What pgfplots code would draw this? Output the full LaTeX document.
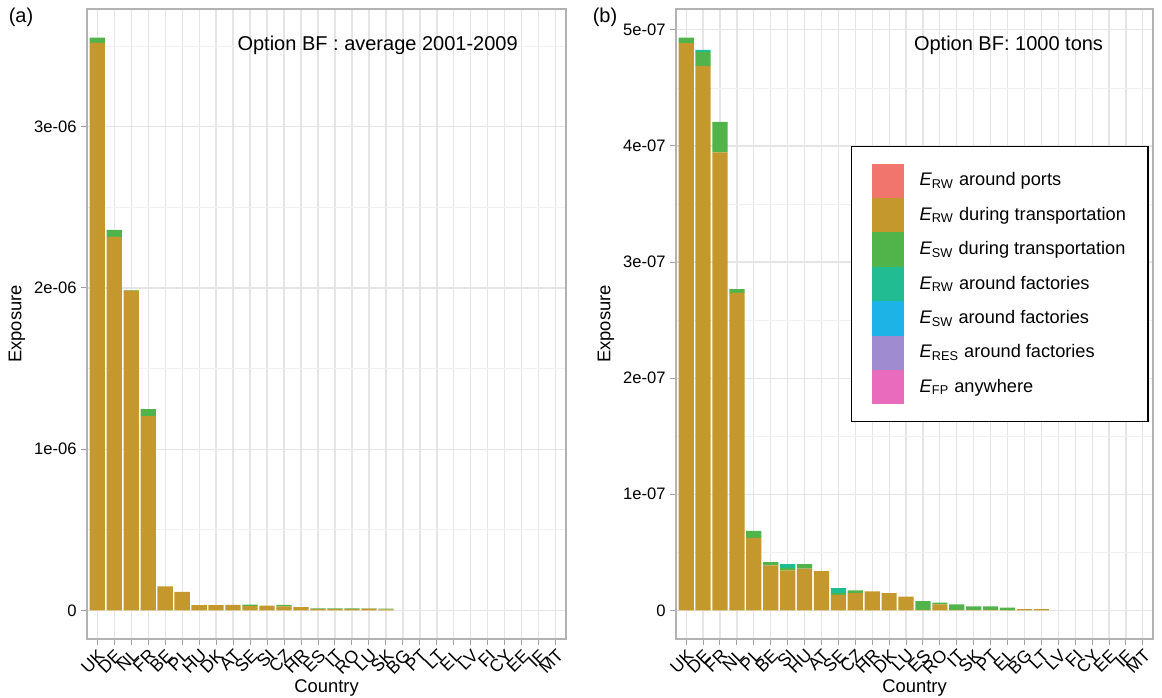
\documentclass[border=0pt]{standalone}
\usepackage{fontspec}
\setmainfont{Liberation Sans}
\usepackage{pgfplots}
\usepackage{pgfplotstable}
\pgfplotsset{compat=1.18}

\definecolor{cPorts}{HTML}{F2756D}
\definecolor{cRWt}{HTML}{C4982C}
\definecolor{cSWt}{HTML}{50B44B}
\definecolor{cRWf}{HTML}{22BC92}
\definecolor{cSWf}{HTML}{1EB3E6}
\definecolor{cRES}{HTML}{9F8BCF}
\definecolor{cFP}{HTML}{E96BBE}

\newcommand\tickfont{\fontsize{8.3}{10}\selectfont}
\newcommand\xtickfont{\fontsize{8.8}{10}\selectfont}
\newcommand\labfont{\fontsize{9.2}{11}\selectfont}
\newcommand\legfont{\fontsize{9.1}{10}\selectfont}
\newcommand\titfont{\fontsize{10}{12}\selectfont}

\pgfplotstableread{
x rwt swt
0  3.520e-6 0.033e-6
1  2.317e-6 0.043e-6
2  1.983e-6 0.004e-6
3  1.205e-6 0.043e-6
4  0.149e-6 0
5  0.114e-6 0
6  0.033e-6 0
7  0.033e-6 0
8  0.034e-6 0
9  0.027e-6 0.008e-6
10 0.030e-6 0
11 0.024e-6 0.010e-6
12 0.020e-6 0
13 0.007e-6 0.005e-6
14 0.007e-6 0.005e-6
15 0.008e-6 0.004e-6
16 0.010e-6 0.002e-6
17 0.006e-6 0.005e-6
18 0 0
19 0 0
20 0 0
21 0 0
22 0 0
23 0 0
24 0 0
25 0 0
26 0 0
27 0 0
}\dataA

\pgfplotstableread{
x rwt swt rwf
0  4.886e-7 0.048e-7 0
1  4.690e-7 0.118e-7 0.020e-7
2  3.944e-7 0.264e-7 0
3  2.734e-7 0.034e-7 0
4  0.625e-7 0.060e-7 0
5  0.387e-7 0.029e-7 0
6  0.344e-7 0.023e-7 0.031e-7
7  0.360e-7 0.038e-7 0
8  0.338e-7 0 0
9  0.134e-7 0.014e-7 0.043e-7
10 0.149e-7 0.023e-7 0
11 0.163e-7 0 0
12 0.149e-7 0 0
13 0.118e-7 0 0
14 0.005e-7 0.075e-7 0
15 0.052e-7 0.014e-7 0
16 0.005e-7 0.047e-7 0
17 0.004e-7 0.030e-7 0
18 0.004e-7 0.030e-7 0
19 0.003e-7 0.020e-7 0
20 0.011e-7 0 0
21 0.011e-7 0 0
22 0 0 0
23 0 0 0
24 0 0 0
25 0 0 0
26 0 0 0
27 0 0 0
}\dataB

\pgfplotsset{
  sqkey/.style={legend image code/.code={\fill[##1] (0pt,-8.6pt) rectangle (16pt,8.6pt);}},
  panel/.style={
    scale only axis,
    height=315pt,
    ybar stacked, bar width=0.9,
    xmin=-0.6, xmax=27.6, xtick={0,...,27},
    tick pos=left,
    tick align=outside, major tick length=3pt, minor tick length=0pt,
    tick style={gray!75, line width=0.5pt},
    axis line style={gray!60, line width=0.6pt},
    xmajorgrids, ymajorgrids, yminorgrids,
    major grid style={gray!20, line width=0.6pt},
    minor grid style={gray!12, line width=0.35pt},
    xticklabel style={rotate=45, anchor=north east, inner sep=1pt, font=\xtickfont},
    yticklabel style={font=\tickfont, inner sep=2pt},
    xlabel={Country}, ylabel={Exposure},
    label style={font=\labfont},
    xlabel style={yshift=3pt},
    ylabel style={yshift=-1pt},
  }
}

\begin{document}
\begin{tikzpicture}
\useasboundingbox (0,0) rectangle (581pt,348.5pt);

\begin{axis}[panel,
  at={(43.5pt,29pt)}, anchor=south west, width=239.5pt,
  ymin=-0.1777e-6, ymax=3.7307e-6,
  ytick={0,1e-6,2e-6,3e-6}, yticklabels={0,1e-06,2e-06,3e-06},
  minor ytick={0.5e-6,1.5e-6,2.5e-6,3.5e-6},
  xticklabels={UK,DE,NL,FR,BE,PL,HU,DK,AT,SE,SI,CZ,HR,ES,IT,RO,LU,SK,BG,PT,LT,EL,LV,FI,CY,EE,IE,MT},
]
\addplot[fill=cRWt, draw=none] table[x=x,y=rwt]{\dataA};
\addplot[fill=cSWt, draw=none] table[x=x,y=swt]{\dataA};
\node[anchor=east, font=\titfont] at (axis description cs:0.914,0.943) {Option BF : average 2001-2009};
\end{axis}

\begin{axis}[panel,
  at={(338pt,29pt)}, anchor=south west, width=238.5pt,
  ymin=-0.2467e-7, ymax=5.18e-7,
  ytick={0,1e-7,2e-7,3e-7,4e-7,5e-7}, yticklabels={0,1e-07,2e-07,3e-07,4e-07,5e-07},
  minor ytick={0.5e-7,1.5e-7,2.5e-7,3.5e-7,4.5e-7},
  xticklabels={UK,DE,FR,NL,PL,BE,SI,HU,AT,SE,CZ,HR,DK,LU,ES,RO,IT,SK,PT,EL,BG,LT,LV,FI,CY,EE,IE,MT},
  legend style={at={(0.367,0.7825)}, anchor=north west, draw=black, line width=0.6pt,
    fill=white, inner xsep=10pt, inner ysep=8.5pt, row sep=0pt, column sep=7pt,
    font=\legfont, nodes={inner sep=1pt}},
  legend cell align=left,
]
\addlegendimage{fill=cPorts, draw=none, sqkey}
\addplot[fill=cRWt, draw=none, sqkey] table[x=x,y=rwt]{\dataB};
\addplot[fill=cSWt, draw=none, sqkey] table[x=x,y=swt]{\dataB};
\addplot[fill=cRWf, draw=none, sqkey] table[x=x,y=rwf]{\dataB};
\addlegendimage{fill=cSWf, draw=none, sqkey}
\addlegendimage{fill=cRES, draw=none, sqkey}
\addlegendimage{fill=cFP, draw=none, sqkey}
\legend{\textit{E}\textsubscript{RW} around ports,
        \textit{E}\textsubscript{RW} during transportation,
        \textit{E}\textsubscript{SW} during transportation,
        \textit{E}\textsubscript{RW} around factories,
        \textit{E}\textsubscript{SW} around factories,
        \textit{E}\textsubscript{RES} around factories,
        \textit{E}\textsubscript{FP} anywhere}
\node[anchor=east, font=\titfont] at (axis description cs:0.91,0.943) {Option BF: 1000 tons};
\end{axis}

\node[font=\titfont] at (10.5pt,340pt) {(a)};
\node[font=\titfont] at (302.5pt,340pt) {(b)};
\end{tikzpicture}
\end{document}
